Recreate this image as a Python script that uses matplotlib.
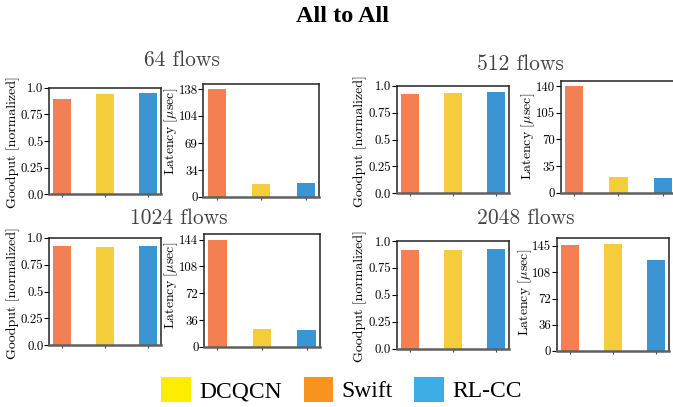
import glob
import matplotlib
matplotlib.use("Agg")
import matplotlib.pyplot as plt
from matplotlib.patches import Patch
from matplotlib import font_manager as fm

# ---- data ----
flow_titles = ["64 flows", "512 flows", "1024 flows", "2048 flows"]
bar_colors = ["#F47F52", "#F4CD3D", "#3A95D2"]
goodput_64 = [0.894, 0.941, 0.953]
goodput_512 = [0.923, 0.932, 0.941]
goodput_1024 = [0.923, 0.913, 0.923]
goodput_2048 = [0.916, 0.916, 0.926]
latency_64 = [138.0, 16.4, 17.7]
latency_512 = [140.0, 20.6, 19.3]
latency_1024 = [144.0, 23.9, 22.5]
latency_2048 = [146.4, 147.7, 125.8]
lat_ticks_64 = [0, 34, 69, 104, 138]
lat_ticks_512 = [0, 35, 70, 105, 140]
lat_ticks_1024 = [0, 36, 72, 108, 144]
lat_ticks_2048 = [0, 36, 72, 108, 145]
gp_ticks = [0.0, 0.25, 0.5, 0.75, 1.0]
gp_tick_labels = ["0.0", "0.25", "0.5", "0.75", "1.0"]
legend_labels = ["DCQCN", "Swift", "RL-CC"]
legend_colors = ["#FFED00", "#F7931E", "#3DAEE5"]

goodputs = [goodput_64, goodput_512, goodput_1024, goodput_2048]
latencies = [latency_64, latency_512, latency_1024, latency_2048]
lat_ticks = [lat_ticks_64, lat_ticks_512, lat_ticks_1024, lat_ticks_2048]

# locate Times-like font files
serif_family = "Liberation Serif"
for pat in ["LiberationSerif-Regular.ttf", "LiberationSerif-Bold.ttf"]:
    for p in glob.glob("/usr/share/fonts/**/" + pat, recursive=True) + \
             glob.glob("/usr/local/share/fonts/**/" + pat, recursive=True):
        try:
            fm.fontManager.addfont(p)
            serif_family = fm.FontProperties(fname=p).get_name()
        except Exception:
            pass
SERIF = [serif_family, "Liberation Serif", "Times New Roman", "DejaVu Serif"]

plt.rcParams["mathtext.fontset"] = "cm"
plt.rcParams["axes.unicode_minus"] = False

W, H = 673, 407
fig = plt.figure(figsize=(W / 100, H / 100), dpi=100)

def rect(l, r, t, b):
    return [l / W, 1 - b / H, (r - l) / W, (b - t) / H]

gp_rects = [rect(49, 160.7, 87.7, 194.3), rect(396.7, 509.3, 85.7, 193.3),
            rect(49, 160.7, 237.7, 345.3), rect(396.7, 509.3, 241, 348.7)]
lat_rects = [rect(203.3, 319.3, 84, 196.7), rect(560.7, 676.2, 80.7, 192.7),
             rect(204, 320, 234.3, 346.7), rect(556.7, 669.3, 238.3, 350.7)]
lat_label_y = [0.577, 0.5, 0.546, 0.52]
title_pos = [(181.7, 60), (520, 64), (179, 218), (526, 218)]

TF = "cmr10"

def style(ax):
    for s in ["top", "left", "right"]:
        ax.spines[s].set_color("#222222")
        ax.spines[s].set_linewidth(1.1)
    ax.spines["bottom"].set_color("#606060")
    ax.spines["bottom"].set_linewidth(1.8)
    ax.set_xlim(-0.3, 2.3)
    ax.set_xticks(range(3))
    ax.set_xticklabels([])
    ax.tick_params(axis="x", length=2.5, width=0.8, color="#444444")
    ax.tick_params(axis="y", length=3.5, width=0.8, pad=0.5, labelsize=9.2)
    for lab in ax.get_yticklabels():
        lab.set_fontfamily(TF)

for i in range(4):
    ax = fig.add_axes(gp_rects[i])
    ax.bar(range(3), goodputs[i], width=0.42, color=bar_colors, zorder=2)
    ax.set_ylim(0, 1.0)
    ax.set_yticks(gp_ticks)
    ax.set_yticklabels(gp_tick_labels)
    style(ax)
    ax.set_ylabel("Goodput [normalized]", fontfamily=TF, fontsize=10)
    ax.yaxis.set_label_coords(-0.26, 0.49)

    ax2 = fig.add_axes(lat_rects[i])
    ax2.bar(range(3), latencies[i], width=0.41, color=bar_colors, zorder=2)
    ax2.set_ylim(0, 1.05 * max(latencies[i]))
    ax2.set_yticks(lat_ticks[i])
    ax2.set_yticklabels([str(t) for t in lat_ticks[i]])
    style(ax2)
    ax2.set_ylabel(r"Latency [$\mu$sec]", fontfamily=TF, fontsize=10)
    ax2.yaxis.set_label_coords(-0.205, lat_label_y[i])

    tx, ty = title_pos[i]
    fig.text(tx / W, 1 - ty / H, flow_titles[i], fontfamily=TF, fontsize=15.5,
             color="#444444", ha="center", va="center")

fig.text(342 / W, 1 - 16 / H, "All to All", fontfamily=SERIF,
         fontweight="bold", fontsize=17.5, ha="center", va="center")

handles = [Patch(facecolor=c, edgecolor="none") for c in legend_colors]
leg = fig.legend(handles, legend_labels, loc="center",
                 bbox_to_anchor=(341.7 / W, 1 - 389.5 / H), ncol=3, frameon=False,
                 prop=fm.FontProperties(family=SERIF, size=17),
                 handlelength=1.27, handleheight=1.27, handletextpad=0.35,
                 columnspacing=0.9, borderpad=0, borderaxespad=0)

fig.savefig("out.png", dpi=100)
